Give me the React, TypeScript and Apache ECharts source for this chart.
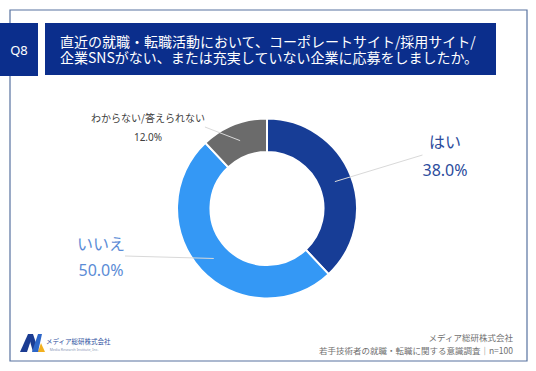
import React, { useEffect, useRef } from 'react';
import * as echarts from 'echarts';

// ---- data ----
const categories = ['はい', 'いいえ', 'わからない/答えられない'];
const values = [38.0, 50.0, 12.0];
const questionNo = 'Q8';
const titleLines = [
  '直近の就職・転職活動において、コーポレートサイト/採用サイト/',
  '企業SNSがない、または充実していない企業に応募をしましたか。',
];
const footerLines = ['メディア総研株式会社', '若手技術者の就職・転職に関する意識調査｜n=100'];
const logoName = 'メディア総研株式会社';
const logoSub = 'Media Research Institute, Inc.';

// ---- styles ----
const sliceColors = ['#173d96', '#3498f5', '#6b6b6b'];
const labelColors = ['#2c4c9c', '#5b8cd6', '#404040'];
const labelSizes = [16, 16, 10];
const labelLineHeights = [29, 27, 19];
const labelPos: number[][] = [
  [445, 155],
  [101, 256],
  [148, 127],
];
const FONT = '"Noto Sans CJK JP", "Noto Sans", sans-serif';
const NAVY = '#0b2e8c';

export default function App() {
  const ref = useRef<HTMLDivElement>(null);

  useEffect(() => {
    if (!ref.current) return;
    const chart = echarts.init(ref.current, null, { renderer: 'svg' });
    const CX = 267;
    const CY = 208.5;

    const option: any = {
      animation: false,
      backgroundColor: '#ffffff',
      graphic: [
        {
          type: 'rect',
          shape: { x: 10, y: 10, width: 517, height: 351 },
          style: { fill: 'none', stroke: '#5872a0', lineWidth: 1.2 },
          z: 0,
        },
        { type: 'rect', shape: { x: 0, y: 23, width: 38, height: 53 }, style: { fill: NAVY } },
        {
          type: 'text',
          x: 19,
          y: 50,
          style: {
            text: questionNo,
            fill: '#ffffff',
            fontSize: 13,
            fontFamily: '"Noto Sans", sans-serif',
            align: 'center',
            verticalAlign: 'middle',
            textAlign: 'center',
            textVerticalAlign: 'middle',
          },
        },
        { type: 'rect', shape: { x: 45, y: 23, width: 451, height: 52 }, style: { fill: NAVY } },
        {
          type: 'text',
          x: 60,
          y: 41,
          style: {
            text: titleLines[0],
            fill: '#ffffff',
            fontSize: 14,
            fontFamily: FONT,
            align: 'left',
            verticalAlign: 'middle',
            textAlign: 'left',
            textVerticalAlign: 'middle',
          },
        },
        {
          type: 'text',
          x: 60,
          y: 57,
          style: {
            text: titleLines[1],
            fill: '#ffffff',
            fontSize: 14,
            fontFamily: FONT,
            align: 'left',
            verticalAlign: 'middle',
            textAlign: 'left',
            textVerticalAlign: 'middle',
          },
        },
        // footer right
        {
          type: 'text',
          x: 513,
          y: 337,
          style: {
            text: footerLines[0],
            fill: '#707070',
            fontSize: 8.5,
            fontFamily: FONT,
            align: 'right',
            verticalAlign: 'middle',
            textAlign: 'right',
            textVerticalAlign: 'middle',
          },
        },
        {
          type: 'text',
          x: 513,
          y: 350,
          style: {
            text: footerLines[1],
            fill: '#707070',
            fontSize: 8.5,
            fontFamily: FONT,
            align: 'right',
            verticalAlign: 'middle',
            textAlign: 'right',
            textVerticalAlign: 'middle',
          },
        },
        // logo
        {
          type: 'polygon',
          shape: { points: [[20, 352], [28, 334], [33, 334], [27, 352]] },
          style: { fill: '#1b3c92' },
        },
        {
          type: 'polygon',
          shape: { points: [[28, 334], [33, 334], [39, 352], [33, 352]] },
          style: { fill: '#1b3c92' },
        },
        {
          type: 'polygon',
          shape: { points: [[32, 352], [38, 334], [42, 334], [38, 352]] },
          style: { fill: '#2d66c8' },
        },
        {
          type: 'polygon',
          shape: { points: [[38, 352], [41, 343], [45, 352]] },
          style: { fill: '#f2b01e' },
        },
        {
          type: 'text',
          x: 46,
          y: 341,
          style: {
            text: logoName,
            fill: '#2d4f9e',
            fontSize: 6.5,
            fontFamily: FONT,
            align: 'left',
            verticalAlign: 'middle',
            textAlign: 'left',
            textVerticalAlign: 'middle',
          },
        },
        {
          type: 'text',
          x: 74,
          y: 349,
          style: {
            text: logoSub,
            fill: '#8a97b5',
            fontSize: 3.5,
            fontFamily: '"Noto Sans", sans-serif',
            align: 'center',
            verticalAlign: 'middle',
            textAlign: 'center',
            textVerticalAlign: 'middle',
          },
        },
      ],
      series: [
        {
          type: 'pie',
          z: 2,
          center: [CX, CY],
          radius: [56.5, 90],
          startAngle: 90,
          clockwise: true,
          silent: true,
          avoidLabelOverlap: false,
          emphasis: { disabled: true },
          label: { show: false },
          labelLine: { show: false },
          itemStyle: { borderColor: '#ffffff', borderWidth: 2 },
          data: categories.map((name, i) => ({
            name,
            value: values[i],
            itemStyle: { color: sliceColors[i] },
          })),
        },
        {
          type: 'pie',
          z: 5,
          center: [CX, CY],
          radius: [72, 73],
          startAngle: 90,
          clockwise: true,
          silent: true,
          avoidLabelOverlap: false,
          emphasis: { disabled: true },
          itemStyle: { color: 'rgba(0,0,0,0)', borderWidth: 0 },
          label: {
            show: true,
            position: 'outside',
            fontFamily: FONT,
            formatter: (p: any) => `{n|${p.name}}\n{p|${Number(p.value).toFixed(1)}%}`,
          },
          labelLine: {
            show: true,
            length: 12,
            length2: 0,
            smooth: false,
            lineStyle: { color: '#d9d9d9', width: 1 },
          },
          labelLayout: (params: any) => {
            const pos = labelPos[params.dataIndex];
            return { x: pos[0], y: pos[1], align: 'center', verticalAlign: 'middle' };
          },
          data: categories.map((name, i) => ({
            name,
            value: values[i],
            label: {
              rich: {
                n: {
                  fontSize: labelSizes[i],
                  lineHeight: labelLineHeights[i],
                  color: labelColors[i],
                  fontFamily: FONT,
                  align: 'center',
                },
                p: {
                  fontSize: labelSizes[i],
                  lineHeight: labelLineHeights[i],
                  color: labelColors[i],
                  fontFamily: '"Noto Sans", sans-serif',
                  align: 'center',
                },
              },
            },
          })),
        },
      ],
    };

    chart.setOption(option);
    return () => chart.dispose();
  }, []);

  return (
    <div
      ref={ref}
      style={{ position: 'absolute', left: 0, top: 0, width: 536, height: 371, background: '#fff' }}
    />
  );
}
